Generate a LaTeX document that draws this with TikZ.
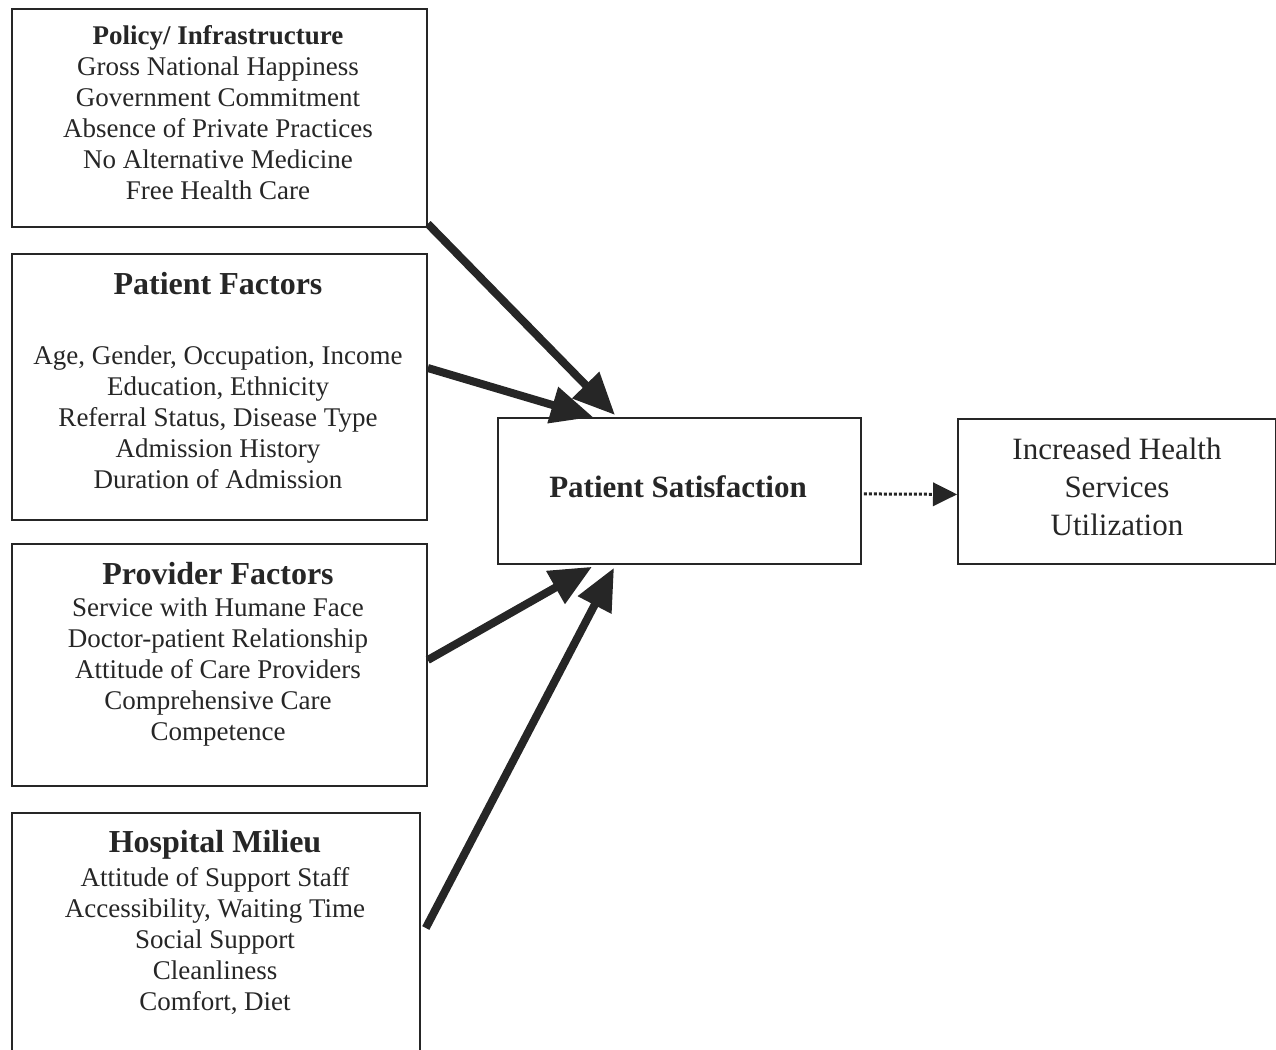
\documentclass[tikz,border=0pt]{standalone}
\usepackage{fontspec}
\setmainfont{Liberation Serif}
\usetikzlibrary{arrows.meta,calc}
\definecolor{ink}{HTML}{262626}
\tikzset{
  box/.style={draw=ink, line width=1.8pt, rectangle, inner sep=0pt, anchor=north west},
  body/.style={align=center, text=ink, font=\fontsize{27}{31}\selectfont, anchor=north, inner sep=0pt},
  head/.style={body, font=\fontsize{32}{31}\selectfont\bfseries},
  bigarrow/.style={draw=ink, line width=8pt, -{Triangle[length=42pt,width=36pt]}},
  dotarrow/.style={draw=ink, line width=3pt, dotted, -{Triangle[length=24pt,width=24pt,line width=0pt]}}
}
\begin{document}
\begin{tikzpicture}[x=1pt,y=-1pt]
\useasboundingbox (0,0) rectangle (1276,1049);
\clip (0,0) rectangle (1276,1049);
% boxes
\node[box, minimum width=415pt, minimum height=218pt] (policy) at (11,8) {};
\node[box, minimum width=415pt, minimum height=266pt] (patient) at (11,253) {};
\node[box, minimum width=415pt, minimum height=242pt] (provider) at (11,543) {};
\node[box, minimum width=408pt, minimum height=250pt] (hospital) at (11,812) {};
\node[box, minimum width=363pt, minimum height=146pt] (sat) at (497,417) {};
\node[box, minimum width=318pt, minimum height=145pt] (util) at (957,418) {};
% texts
\node[body] (policyT) at (218,25) {\textbf{Policy/ Infrastructure}\\Gross National Happiness\\Government Commitment\\Absence of Private Practices\\No Alternative Medicine\\Free Health Care};
\node[head] (patientH) at (218,272) {Patient Factors};
\node[body] (patientT) at (218,346) {Age, Gender, Occupation, Income\\Education, Ethnicity\\Referral Status, Disease Type\\Admission History\\Duration of Admission};
\node[head] (providerH) at (218,562) {Provider Factors};
\node[body] (providerT) at (218,598) {Service with Humane Face\\Doctor-patient Relationship\\Attitude of Care Providers\\Comprehensive Care\\Competence};
\node[head] (hospitalH) at (215,830) {Hospital Milieu};
\node[body] (hospitalT) at (215,867) {Attitude of Support Staff\\Accessibility, Waiting Time\\Social Support\\Cleanliness\\Comfort, Diet};
\node[body, anchor=center, font=\fontsize{31}{31}\selectfont\bfseries] (satT) at (678,487) {Patient Satisfaction};
\node[body, anchor=center, font=\fontsize{31}{38}\selectfont] (utilT) at (1117,487) {Increased Health\\Services\\Utilization};
% connectors
\coordinate (s1) at ($(policy.south east)+(0,-4)$);
\coordinate (t1) at ($(sat.north west)+(118,-2)$);
\coordinate (s2) at ($(patient.north east)+(0,115)$);
\coordinate (t2) at ($(sat.north west)+(96,0)$);
\coordinate (s3) at ($(provider.north east)+(0,117)$);
\coordinate (t3) at ($(sat.south west)+(95,2)$);
\coordinate (s4) at ($(hospital.north east)+(5,116)$);
\coordinate (t4) at ($(sat.south west)+(117,3)$);
\draw[bigarrow] (s1) -- (t1);
\draw[bigarrow] (s2) -- (t2);
\draw[bigarrow] (s3) -- (t3);
\draw[bigarrow] (s4) -- (t4);
\draw[dotarrow] ($(sat.east)+(2,3)$) -- ($(util.west)+(0,3)$);
\end{tikzpicture}
\end{document}
